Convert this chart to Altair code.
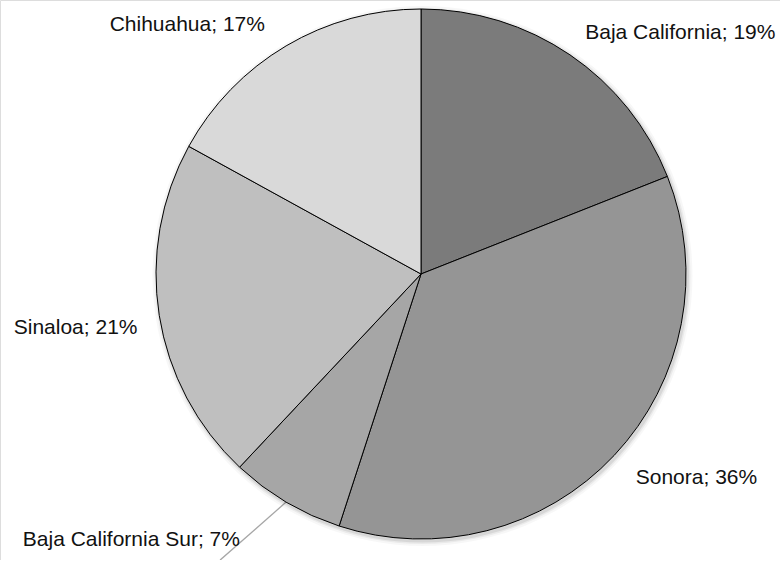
import altair as alt
import pandas as pd
import math

# Share of each state, in drawing order (clockwise from 12 o'clock)
states = ["Baja California", "Sonora", "Baja California Sur", "Sinaloa", "Chihuahua"]
shares = [19, 36, 7, 21, 17]
colors = ["#7b7b7b", "#959595", "#a6a6a6", "#bfbfbf", "#d9d9d9"]

# Pie geometry (pixels)
CX, CY, R = 421, 274, 265

df = pd.DataFrame({"state": states, "share": shares, "order": range(len(states))})
df["end"] = df["share"].cumsum()
df["start"] = df["end"] - df["share"]
df["mid"] = (df["start"] + df["end"]) / 2
df["label"] = df["state"] + "; " + df["share"].astype(str) + "%"

theta_scale = alt.Scale(domain=[0, 100], range=[0, 2 * math.pi])
color_scale = alt.Scale(domain=states, range=colors)

base = alt.Chart(df)

# Soft drop shadow under the pie
shadow_df = pd.DataFrame({"t0": [0], "t1": [100]})
shadows = []
for grow, op in [(5, 0.03), (3, 0.05), (1.5, 0.08)]:
    shadows.append(
        alt.Chart(shadow_df).mark_arc(color="black", opacity=op).encode(
            theta=alt.Theta("t0:Q", scale=theta_scale),
            theta2="t1:Q",
            x=alt.value(CX + 1.5),
            y=alt.value(CY + 2),
            radius=alt.value(R + grow),
        )
    )

pie = base.mark_arc(stroke="black", strokeWidth=1).encode(
    theta=alt.Theta("start:Q", scale=theta_scale),
    theta2="end:Q",
    color=alt.Color("state:N", scale=color_scale, legend=None),
    x=alt.value(CX),
    y=alt.value(CY),
    radius=alt.value(R),
)

# Label placement: (align, dx, dy) per slice around the mid-angle
placement = {
    "Baja California": ("left", 4, -5),
    "Sonora": ("left", 7, 9),
    "Baja California Sur": ("right", -36, 21),
    "Sinaloa": ("right", -2, 9),
    "Chihuahua": ("right", -11, -4),
}

labels = []
for name, (align, dx, dy) in placement.items():
    labels.append(
        base.transform_filter(alt.datum.state == name)
        .mark_text(align=align, baseline="middle", dx=dx, dy=dy,
                   font="Liberation Sans", fontSize=21, color="#111111")
        .encode(
            theta=alt.Theta("mid:Q", scale=theta_scale),
            x=alt.value(CX),
            y=alt.value(CY),
            radius=alt.value(R + 20),
            text="label:N",
        )
    )

# Leader line for the small slice
bcs = df[df["state"] == "Baja California Sur"].iloc[0]
ang = bcs["mid"] / 100 * 2 * math.pi
x0 = CX + R * math.sin(ang)
y0 = CY - R * math.cos(ang)
leader_df = pd.DataFrame({"x": [x0], "y": [y0], "x2": [x0 - 66], "y2": [y0 + 58]})
leader = alt.Chart(leader_df).mark_rule(color="#a6a6a6", strokeWidth=1.3).encode(
    x=alt.X("x:Q", scale=None, axis=None),
    y=alt.Y("y:Q", scale=None, axis=None),
    x2="x2:Q",
    y2="y2:Q",
)

chart = alt.layer(leader, *shadows, pie, *labels).properties(
    width=780, height=560, padding=0,
    autosize=alt.AutoSizeParams(type="none"),
).configure_view(stroke=None).configure(background="white")

chart.save("out.html", embed_options={"renderer": "svg", "actions": False})
